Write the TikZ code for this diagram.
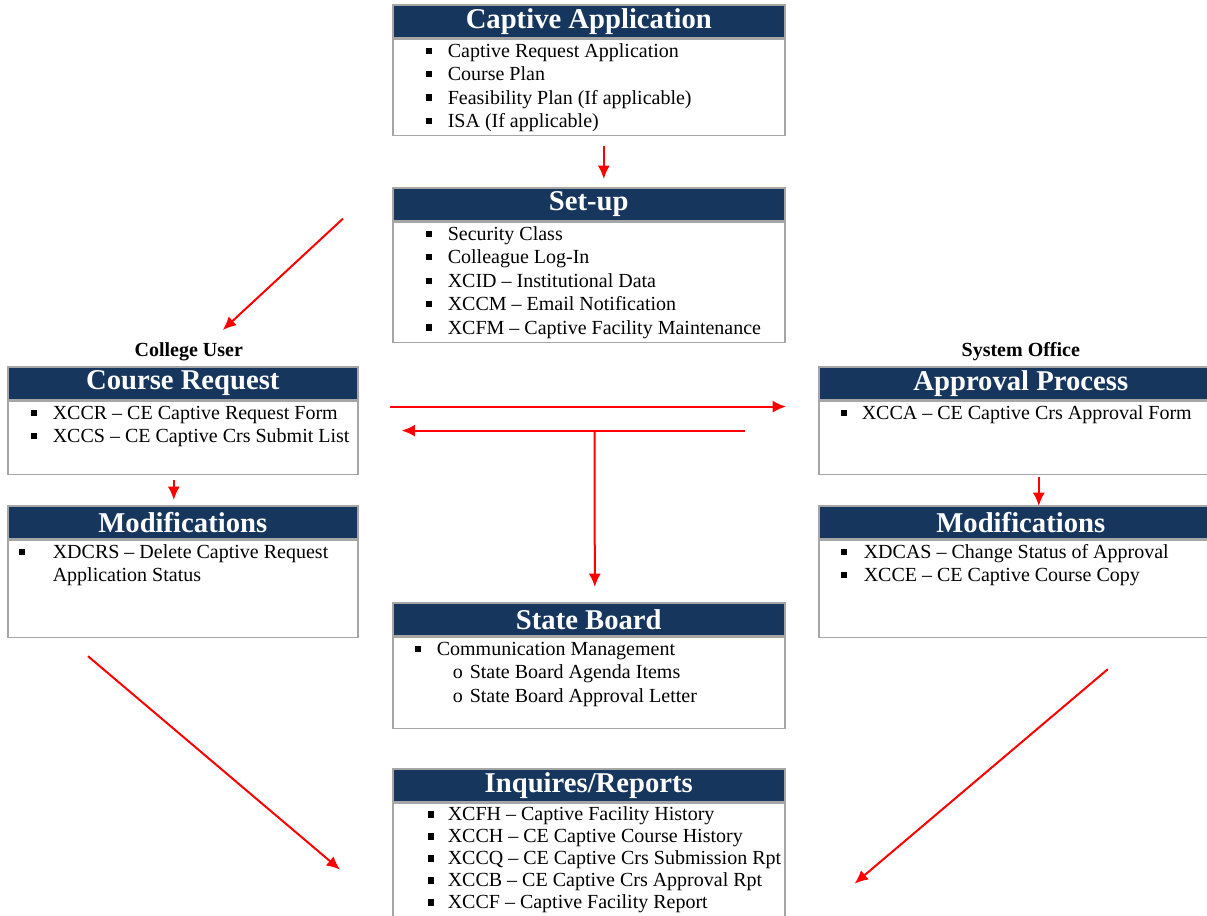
\documentclass[tikz,border=0pt]{standalone}
\usepackage{fontspec}
\setmainfont{Liberation Serif}
\usetikzlibrary{arrows.meta}

\newlength\px \setlength\px{0.75pt}
\newlength\bulin \newlength\bulgap
\definecolor{navy}{HTML}{17365D}
\definecolor{boxgray}{HTML}{A6A6A6}
\newcommand{\sqb}{\raisebox{0.16em}{\rule{0.32em}{0.32em}}}
\newcommand{\itm}[1]{\par\noindent\strut\hspace*{\bulin}\makebox[\bulgap][l]{\sqb}#1}
\newcommand{\subitm}[1]{\par\noindent\strut\hspace*{\bulin}\hspace*{\bulgap}\hspace*{16\px}\makebox[17\px][l]{o}#1}
\newcommand{\cont}[1]{\par\noindent\strut\hspace*{\bulin}\hspace*{\bulgap}#1}
% body of a box: [line skip], width, height, bullet indent, bullet gap, lines
\newcommand{\blist}[6][17.6]{\parbox[t][#3\px][t]{#2\px}{\setlength\bulin{#4\px}\setlength\bulgap{#5\px}\fontsize{15}{#1}\selectfont\vspace*{1pt}#6}}

\tikzset{
  head/.style={draw=boxgray, line width=1.2pt, fill=navy, text=white,
    font=\fontsize{21.5}{24}\selectfont\bfseries, minimum height=33\px,
    inner sep=0pt, anchor=north west},
  body/.style={draw=boxgray, line width=1.2pt, fill=white, inner sep=0pt, anchor=north west},
  role/.style={font=\fontsize{15}{17}\selectfont\bfseries, inner sep=0pt},
  flow/.style={draw=red, line width=1.5pt, -{Latex[length=10pt,width=9pt]}}
}

\begin{document}
\begin{tikzpicture}[x=0.75pt, y=-0.75pt]
\useasboundingbox (0,0) rectangle (1207,915);

% centre column
\node[head, minimum width=392\px] (capT) at (392,4) {Captive Application};
\node[body] (capB) at (capT.south west) {\blist{392}{96}{33}{22}{%
  \itm{Captive Request Application}
  \itm{Course Plan}
  \itm{Feasibility Plan (If applicable)}
  \itm{ISA (If applicable)}}};

\node[head, minimum width=392\px] (setT) at (392,187) {Set-up};
\node[body] (setB) at (setT.south west) {\blist{392}{120}{33}{22}{%
  \itm{Security Class}
  \itm{Colleague Log-In}
  \itm{XCID \textendash{} Institutional Data}
  \itm{XCCM \textendash{} Email Notification}
  \itm{XCFM \textendash{} Captive Facility Maintenance}}};

\node[head, minimum width=392\px] (sbT) at (392,602) {State Board};
\node[body] (sbB) at (sbT.south west) {\blist{392}{91}{22}{22}{%
  \itm{Communication Management}
  \subitm{State Board Agenda Items}
  \subitm{State Board Approval Letter}}};

\node[head, minimum width=392\px] (irT) at (392,768) {Inquires/Reports};
\node[body] (irB) at (irT.south west) {\blist[16.5]{392}{122}{35}{20}{%
  \vspace*{0.5pt}
  \itm{XCFH \textendash{} Captive Facility History}
  \itm{XCCH \textendash{} CE Captive Course History}
  \itm{XCCQ \textendash{} CE Captive Crs Submission Rpt}
  \itm{XCCB \textendash{} CE Captive Crs Approval Rpt}
  \itm{XCCF \textendash{} Captive Facility Report}}};

% college side
\node[head, minimum width=350\px] (crT) at (7,366) {Course Request};
\node[body] (crB) at (crT.south west) {\blist{350}{73}{23}{22}{%
  \itm{XCCR \textendash{} CE Captive Request Form}
  \itm{XCCS \textendash{} CE Captive Crs Submit List}}};
\node[role, anchor=south] (cu) at ([xshift=6\px,yshift=5\px]crT.north) {College User};

\node[head, minimum width=350\px] (mlT) at (7,505) {Modifications};
\node[body] (mlB) at (mlT.south west) {\blist{350}{97}{11}{34}{%
  \itm{XDCRS \textendash{} Delete Captive Request}
  \cont{Application Status}}};

% system office side
\node[head, minimum width=404\px] (apT) at (818,366) {Approval Process};
\node[body] (apB) at (apT.south west) {\blist{404}{73}{22}{21}{%
  \itm{XCCA \textendash{} CE Captive Crs Approval Form}}};
\node[role, anchor=south] (so) at ([yshift=5\px]apT.north) {System Office};

\node[head, minimum width=404\px] (mrT) at (818,505) {Modifications};
\node[body] (mrB) at (mrT.south west) {\blist{404}{97}{22}{23}{%
  \itm{XDCAS \textendash{} Change Status of Approval}
  \itm{XCCE \textendash{} CE Captive Course Copy}}};

% arrows
\draw[flow] ([xshift=15\px,yshift=-10\px]capB.south) -- ([xshift=15\px,yshift=8\px]setT.north);
\draw[flow] ([xshift=-49\px,yshift=3\px]setT.south west) -- ([xshift=40\px,yshift=36\px]crT.north);
\draw[flow] ([xshift=31\px,yshift=-6\px]crB.north east) -- ([xshift=-32\px,yshift=-6\px]apB.north west);
\draw[flow] ([xshift=-73\px,yshift=-30\px]apB.north west) -- coordinate[pos=0.438] (split)
  ([xshift=43\px,yshift=-30\px]crB.north east);
\draw[flow] (split) -- ([xshift=6\px,yshift=15\px]sbT.north);
\draw[flow] ([xshift=-9\px,yshift=-5\px]crB.south) -- ([xshift=-9\px,yshift=5\px]mlT.north);
\draw[flow] ([xshift=18\px,yshift=-2\px]apB.south) -- ([xshift=18\px,yshift=-1\px]mrT.north);
\draw[flow] ([xshift=81\px,yshift=-18\px]mlB.south west) -- ([xshift=-52\px,yshift=-67\px]irT.south west);
\draw[flow] ([xshift=87\px,yshift=-31\px]mrB.south) -- ([xshift=69\px,yshift=-81\px]irT.south east);
\end{tikzpicture}
\end{document}
